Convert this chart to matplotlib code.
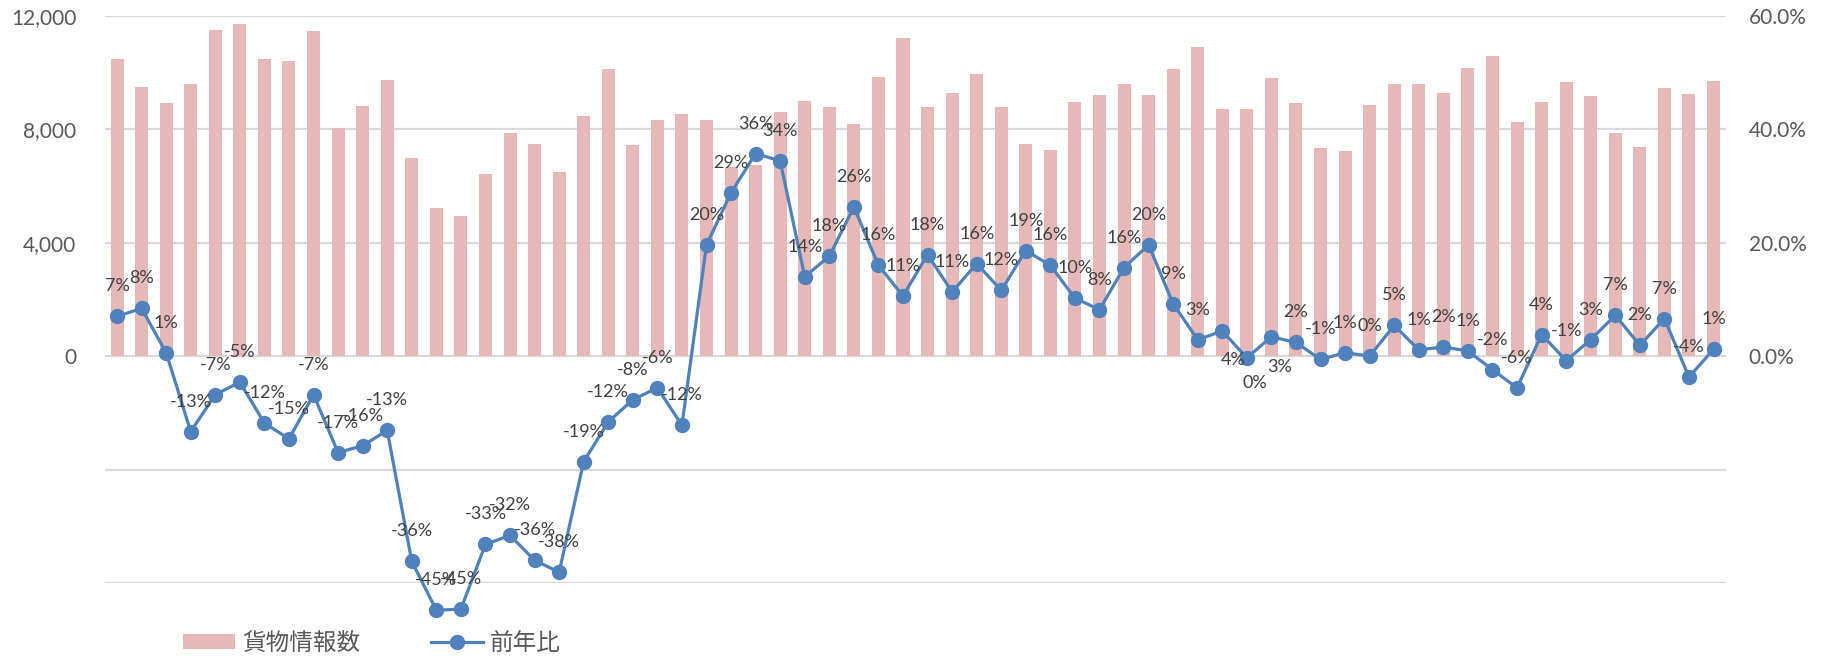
import matplotlib
matplotlib.use("Agg")
import matplotlib.pyplot as plt
from matplotlib.ticker import FuncFormatter, FixedLocator
from matplotlib.patches import Patch
from matplotlib.lines import Line2D
import numpy as np

# ---- data ----
cargo_counts = [10490, 9470, 8940, 9610, 11510, 11710, 10490, 10420, 11460, 8050,
                8810, 9720, 6970, 5210, 4950, 6410, 7870, 7470, 6480, 8480,
                10130, 7440, 8320, 8530, 8320, 6680, 6720, 8620, 8980, 8780,
                8180, 9850, 11200, 8780, 9260, 9940, 8780, 7470, 7250, 8950,
                9190, 9580, 9190, 10110, 10890, 8720, 8720, 9790, 8910, 7350,
                7220, 8860, 9610, 9600, 9270, 10140, 10570, 8260, 8970, 9650,
                9180, 7880, 7370, 9450, 9240, 9710]
yoy_pct = [7.0, 8.4, 0.6, -13.3, -6.8, -4.6, -11.8, -14.6, -6.8, -17.0,
           -15.8, -13.1, -36.2, -44.8, -44.6, -33.2, -31.6, -36.0, -38.1, -18.6,
           -11.6, -7.7, -5.6, -12.2, 19.6, 28.8, 35.7, 34.4, 14.0, 17.6,
           26.3, 16.0, 10.6, 17.9, 11.3, 16.3, 11.6, 18.6, 16.0, 10.2,
           8.2, 15.6, 19.6, 9.2, 2.9, 4.4, -0.3, 3.4, 2.4, -0.6,
           0.6, 0.0, 5.4, 1.1, 1.6, 0.9, -2.4, -5.6, 3.8, -0.8,
           2.9, 7.2, 1.9, 6.6, -3.7, 1.2]
left_ticks = [-8000, -4000, 0, 4000, 8000, 12000]
right_ticks = [-40, -20, 0, 20, 40, 60]
series_names = ["貨物情報数", "前年比"]

# labels that sit below their point: index -> (dx, dy) in points
below_labels = {45: (8, -21), 46: (6, -18), 47: (6, -22)}

BAR_COLOR = "#E6B9B8"
LINE_COLOR = "#4F81BD"
GRID_COLOR = "#D9D9D9"
TICK_COLOR = "#595959"
LABEL_COLOR = "#404040"
FONT = ["Lato", "Noto Sans CJK JP", "DejaVu Sans"]
plt.rcParams["font.family"] = FONT

fig = plt.figure(figsize=(18.28, 6.58), dpi=100)
ax = fig.add_axes([0.0573, 0.1140, 0.9441 - 0.0573, 0.9761 - 0.1140])
ax2 = ax.twinx()

x = np.arange(len(cargo_counts))
ax.bar(x, cargo_counts, width=0.53, color=BAR_COLOR, zorder=2)
ax.set_xlim(-0.5, len(cargo_counts) - 0.5)
ax.set_ylim(-8000, 12000)
ax.yaxis.set_major_locator(FixedLocator(left_ticks))
ax.yaxis.set_major_formatter(FuncFormatter(lambda v, p: f"{int(v):,}" if v >= 0 else ""))
ax.grid(axis="y", color=GRID_COLOR, linewidth=1.6, zorder=0)
ax.set_axisbelow(True)
ax.set_xticks([])

ax2.plot(x, yoy_pct, color=LINE_COLOR, linewidth=2.3, marker="o", markersize=10,
         markerfacecolor=LINE_COLOR, markeredgecolor=LINE_COLOR, clip_on=False, zorder=3)
ax2.set_ylim(-40, 60)
ax2.yaxis.set_major_locator(FixedLocator(right_ticks))
ax2.yaxis.set_major_formatter(FuncFormatter(lambda v, p: f"{v:.1f}%" if v >= 0 else ""))

for a in (ax, ax2):
    for s in a.spines.values():
        s.set_visible(False)
    a.tick_params(axis="y", length=0, labelsize=15, labelcolor=TICK_COLOR)
ax.tick_params(axis="y", pad=20.5)
ax2.tick_params(axis="y", pad=16.5)

for i, v in enumerate(yoy_pct):
    txt = f"{int(round(v))}%"
    dx, dy = below_labels.get(i, (0, 21.6))
    ax2.annotate(txt, (x[i], v), xytext=(dx, dy), textcoords="offset points",
                 ha="center", va="center", fontsize=13, color=LABEL_COLOR,
                 annotation_clip=False, zorder=4)

handles = [Patch(facecolor=BAR_COLOR, edgecolor="none"),
           Line2D([0], [0], color=LINE_COLOR, linewidth=2.3, marker="o", markersize=10)]
fig.legend(handles, series_names, loc="center", bbox_to_anchor=(0.2035, 0.0228),
           ncol=2, frameon=False, fontsize=17, handlelength=2.2, handleheight=0.6,
           columnspacing=3.0, handletextpad=0.3, labelcolor=TICK_COLOR)

fig.savefig("out.png", dpi=100)
